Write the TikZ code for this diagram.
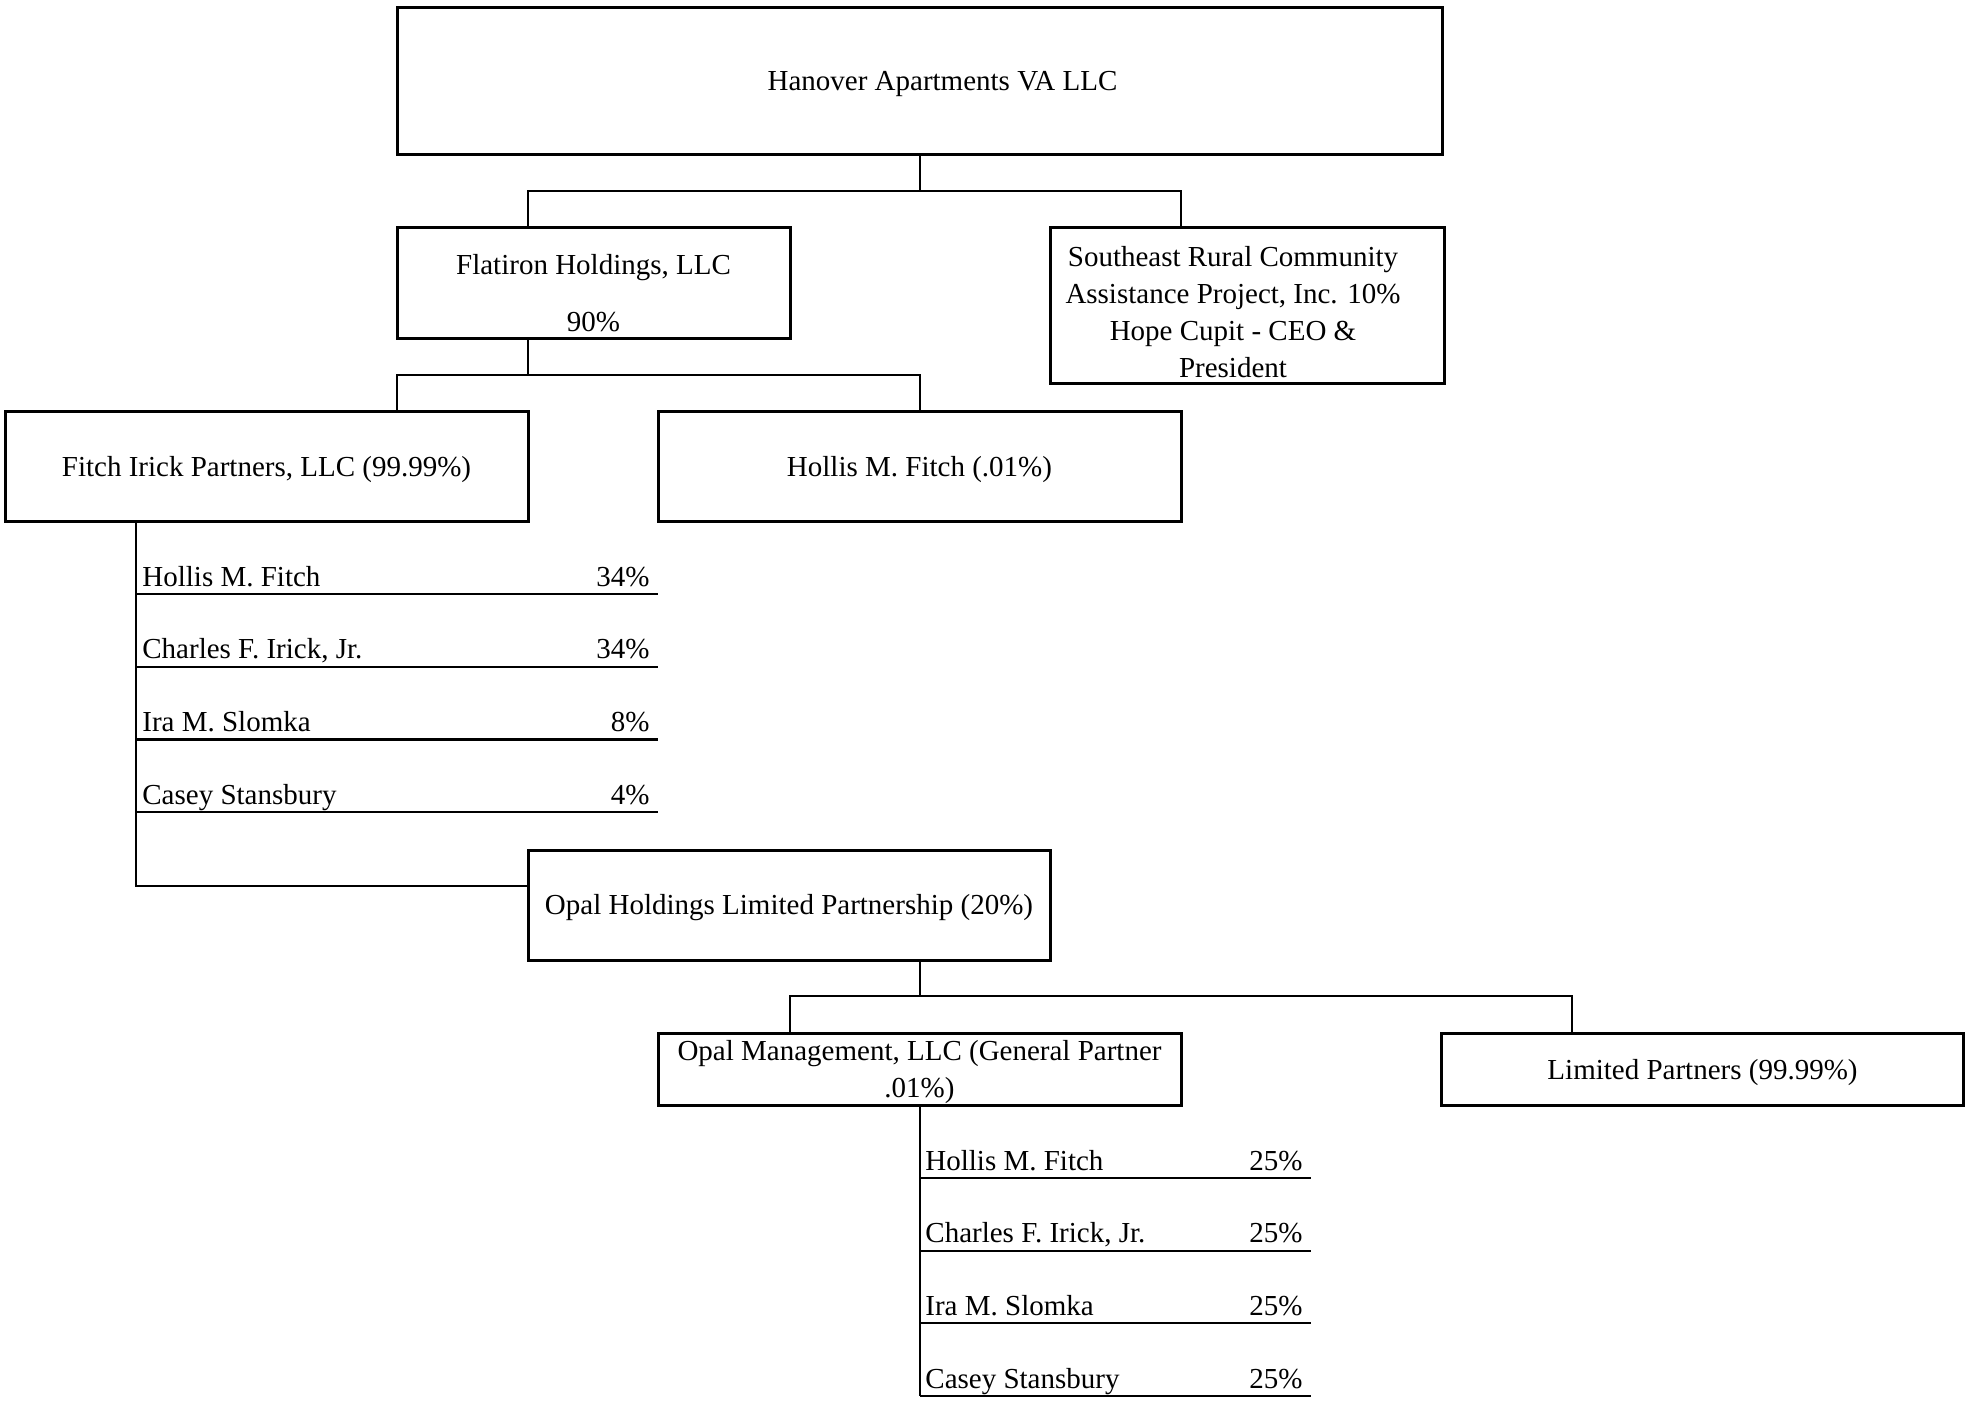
\documentclass[tikz,border=0pt]{standalone}
\usepackage{fontspec}
\setmainfont{Liberation Serif}
\begin{document}
\begin{tikzpicture}[x=0.5pt,y=-0.5pt,
  entbox/.style={draw, line width=1.5pt, inner sep=0pt, align=center, font=\fontsize{14.5}{18.5}\selectfont},
  link/.style={line width=1pt},
  share/.style={line width=1.2pt},
  memtext/.style={inner sep=0pt, font=\fontsize{14.5}{18.5}\selectfont}]
\useasboundingbox (0,0) rectangle (1965,1405);
\node[entbox, minimum width=522.5pt, minimum height=73.5pt] (ent0) at (919.5,80.5) {\rule{23pt}{0pt}\rule{0pt}{13pt}Hanover Apartments VA LLC};
\node[entbox, minimum width=196.5pt, minimum height=55.5pt] (ent1) at (593.5,282.5) {\rule{0pt}{21pt}Flatiron Holdings, LLC\\[10pt]90\%};
\node[entbox, minimum width=197pt, minimum height=78pt] (ent2) at (1247,305) {\rule{0pt}{17.5pt}Southeast Rural Community\rule{14pt}{0pt}\\Assistance Project, Inc. 10\%\rule{14pt}{0pt}\\Hope Cupit - CEO \&\rule{14pt}{0pt}\\President\rule{14pt}{0pt}};
\node[entbox, minimum width=261.5pt, minimum height=55pt] (ent3) at (266.5,466) {\rule{0pt}{13.5pt}Fitch Irick Partners, LLC (99.99\%)};
\node[entbox, minimum width=261.5pt, minimum height=55pt] (ent4) at (919.5,466) {\rule{0pt}{13.5pt}Hollis M. Fitch (.01\%)};
\node[entbox, minimum width=261pt, minimum height=55pt] (ent5) at (789,905) {\rule{0pt}{13pt}Opal Holdings Limited Partnership (20\%)};
\node[entbox, minimum width=261.5pt, minimum height=36pt] (ent6) at (919.5,1069) {\rule{0pt}{13pt}Opal Management, LLC (General Partner\\.01\%)};
\node[entbox, minimum width=261pt, minimum height=36pt] (ent7) at (1702.5,1069) {\rule{0pt}{13.5pt}Limited Partners (99.99\%)};

\coordinate (j0) at (919.5,190.5);
\draw[link] (ent0) -- (j0);
\draw[link] (j0) -| ([xshift=-32.75pt]ent1.north);
\draw[link] (j0) -| ([xshift=-33pt]ent2.north);

\coordinate (j1) at (528,374.7);
\draw[link] ([xshift=-32.75pt]ent1.south) -- (j1);
\draw[link] (j1) -| ([xshift=65.25pt]ent3.north);
\draw[link] (j1) -| (ent4.north);

\draw[link] ([xshift=66pt]ent3.south west) |- ([yshift=9.5pt]ent5.west);
\foreach \i/\nm/\pc/\yy in {1/Hollis M. Fitch/34/594, 2/{Charles F. Irick, Jr.}/34/666.7, 3/Ira M. Slomka/8/739.4, 4/Casey Stansbury/4/812}{
  \coordinate (fa\i) at (137,\yy);
  \coordinate (fb\i) at (658,\yy);
  \node[memtext, anchor=base west] (fn\i) at (142,\yy-8) {\nm};
  \node[memtext, anchor=base east] (fp\i) at (650,\yy-8) {\pc\%};
  \draw[share] (fa\i) -- (fb\i);
}

\coordinate (j2) at (919.5,996.3);
\draw[link] ([xshift=65.25pt]ent5.south) -- (j2);
\draw[link] (j2) -| ([xshift=-65pt]ent6.north);
\draw[link] (j2) -| ([xshift=-65.5pt]ent7.north);

\foreach \i/\nm/\yy in {1/Hollis M. Fitch/1178, 2/{Charles F. Irick, Jr.}/1250.7, 3/Ira M. Slomka/1323, 4/Casey Stansbury/1396}{
  \coordinate (ga\i) at (919.5,\yy);
  \coordinate (gb\i) at (1311,\yy);
  \node[memtext, anchor=base west] (gn\i) at (925,\yy-8) {\nm};
  \node[memtext, anchor=base east] (gp\i) at (1303,\yy-8) {25\%};
  \draw[share] (ga\i) -- (gb\i);
}
\draw[link] (ent6.south) -- (ga4);

\end{tikzpicture}
\end{document}
